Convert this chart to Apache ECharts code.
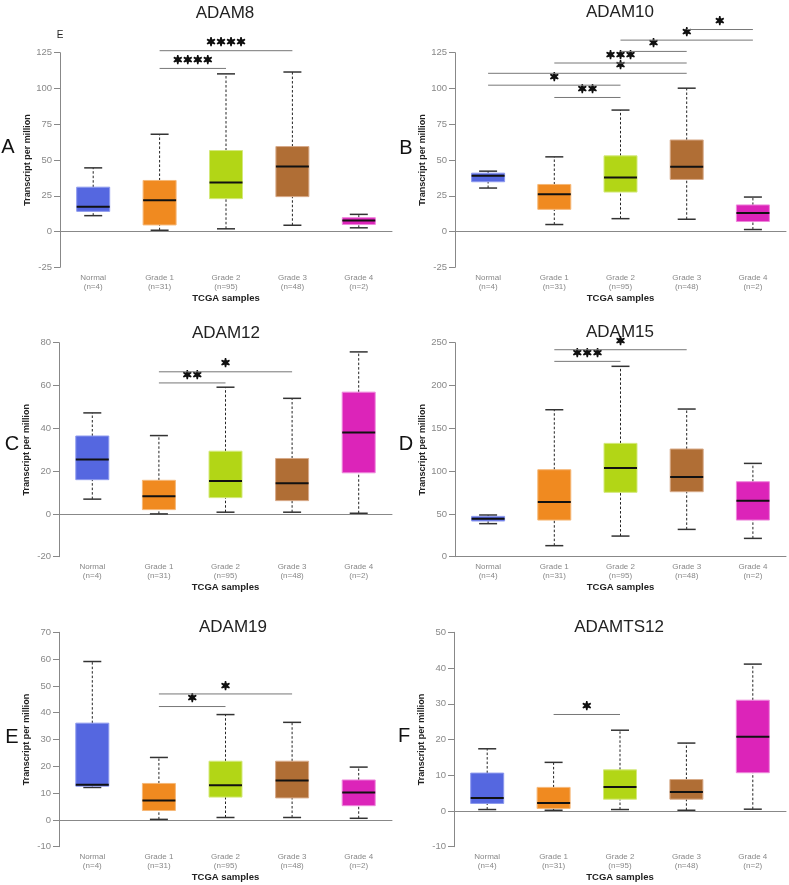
<!DOCTYPE html>
<html lang="en">
<head>
    <meta charset="UTF-8">
    <title>ADAM expression by tumour grade</title>
    <script src="https://cdn.jsdelivr.net/npm/echarts@6/dist/echarts.min.js"></script>
    <style>
        body { margin: 0; background: #fff; }
    </style>
</head>
<body>
   <div id="main" style="width: 789px;height:885px;"></div>
   <script type="text/javascript">
       // groups on the x axis
       var categories = ['Normal', 'Grade 1', 'Grade 2', 'Grade 3', 'Grade 4'];
       var sampleCounts = [4, 31, 95, 48, 2];

       // one row per group: [min, Q1, median, Q3, max]
       var adam8 = [[11.1, 14.1, 17.4, 31, 44.5], [0.9, 4.6, 21.8, 35.7, 68], [1.9, 23, 34.3, 56.6, 110.2], [4.4, 24.4, 45.5, 59.4, 111.5], [2.6, 4.9, 7.7, 9.7, 12]];
       var adam10 = [[30.4, 34.8, 39, 40.8, 42.2], [4.9, 15.5, 26, 32.9, 52.2], [9, 27.6, 37.8, 52.9, 84.9], [8.6, 36.4, 45.2, 64, 100.2], [1.4, 7, 13, 18.6, 24.1]];
       var adam12 = [[6.9, 16, 25.4, 36.4, 47.2], [0, 2, 8.3, 15.7, 36.6], [0.8, 7.6, 15.4, 29.3, 59.2], [0.8, 6.2, 14.3, 25.9, 54], [0.3, 19.2, 38, 56.9, 75.7]];
       var adam15 = [[38.6, 41.7, 44.4, 47.1, 48.7], [12.9, 42.8, 63.9, 101.6, 171.7], [24.1, 75.2, 103.6, 132.4, 222.4], [31.9, 75.9, 93.1, 125.8, 172.5], [21.4, 42.8, 65.4, 87.6, 109]];
       var adam19 = [[12.1, 12.6, 13.1, 36.1, 59.1], [0.2, 3.5, 7.2, 13.6, 23.3], [0.9, 8.5, 12.9, 21.9, 39.3], [0.9, 8.2, 14.7, 21.9, 36.4], [0.6, 5.3, 10.2, 14.9, 19.7]];
       var adamts12 = [[0.4, 2.1, 3.6, 10.6, 17.4], [0.2, 0.7, 2.2, 6.6, 13.6], [0.4, 3.3, 6.7, 11.5, 22.6], [0.2, 3.3, 5.3, 8.8, 19], [0.5, 10.7, 20.8, 31, 41.1]];

       // significance bars: [from group, to group, y value, stars, (optional) star position]
       var adam8Sig = [[1, 2, 114, '****'], [1, 3, 126.4, '****']];
       var adam10Sig = [[1, 2, 93.7, '**'], [0, 2, 102.3, '*', 1.23], [0, 3, 110.6, '*', 1.69], [1, 3, 117.8, '***'], [2, 3, 125.9, '*'], [2, 4, 133.8, '*'], [3, 4, 141.2, '*']];
       var adam12Sig = [[1, 2, 61.2, '**'], [1, 3, 66.4, '*']];
       var adam15Sig = [[1, 2, 228.2, '***'], [1, 3, 241.8, '*']];
       var adam19Sig = [[1, 2, 42.3, '*'], [1, 3, 47, '*']];
       var adamts12Sig = [[1, 2, 27, '*']];

       var boxColors = ['#5567e0', '#f08a20', '#b2d616', '#b06e35', '#dc24b9'];
       var boxBorders = ['#8e9aee', '#f6b878', '#d4e97c', '#d8ab8a', '#ee88dc'];
       var font = '"Liberation Sans", Arial, sans-serif';

       var panels = [
           {title: 'ADAM8', box: adam8, sig: adam8Sig, min: -25, max: 125, step: 25, left: 60, top: 52.7, width: 332, height: 214.6, titleX: 225, titleY: 13, letter: 'A', lx: 8, ly: 147},
           {title: 'ADAM10', box: adam10, sig: adam10Sig, min: -25, max: 125, step: 25, left: 455, top: 52.7, width: 331, height: 214.6, titleX: 620, titleY: 12, letter: 'B', lx: 406, ly: 148},
           {title: 'ADAM12', box: adam12, sig: adam12Sig, min: -20, max: 80, step: 20, left: 59, top: 342.7, width: 333, height: 214, titleX: 226, titleY: 333, letter: 'C', lx: 12, ly: 444},
           {title: 'ADAM15', box: adam15, sig: adam15Sig, min: 0, max: 250, step: 50, left: 455, top: 342.7, width: 331, height: 214, titleX: 620, titleY: 332, letter: 'D', lx: 406, ly: 444},
           {title: 'ADAM19', box: adam19, sig: adam19Sig, min: -10, max: 70, step: 10, left: 59, top: 632.3, width: 333, height: 214.4, titleX: 233, titleY: 627, letter: 'E', lx: 12, ly: 737},
           {title: 'ADAMTS12', box: adamts12, sig: adamts12Sig, min: -10, max: 50, step: 10, left: 454, top: 632.3, width: 332, height: 214.4, titleX: 619, titleY: 627, letter: 'F', lx: 404, ly: 736}
       ];

       function renderBox(params, api) {
           var k = api.value(0);
           var pMin = api.coord([k, api.value(1)]);
           var pQ1 = api.coord([k, api.value(2)]);
           var pMed = api.coord([k, api.value(3)]);
           var pQ3 = api.coord([k, api.value(4)]);
           var pMax = api.coord([k, api.value(5)]);
           var cx = pMin[0], half = 16.5, cap = 9;
           var dash = {stroke: '#222', lineWidth: 1, lineDash: [2.5, 2]};
           var solid = {stroke: '#333', lineWidth: 1.5};
           return {
               type: 'group',
               children: [
                   {type: 'line', shape: {x1: cx, y1: pQ3[1], x2: cx, y2: pMax[1]}, style: dash},
                   {type: 'line', shape: {x1: cx, y1: pMin[1], x2: cx, y2: pQ1[1]}, style: dash},
                   {type: 'line', shape: {x1: cx - cap, y1: pMax[1], x2: cx + cap, y2: pMax[1]}, style: solid},
                   {type: 'line', shape: {x1: cx - cap, y1: pMin[1], x2: cx + cap, y2: pMin[1]}, style: solid},
                   {type: 'rect', shape: {x: cx - half, y: pQ3[1], width: half * 2, height: pQ1[1] - pQ3[1]},
                       style: {fill: boxColors[k], stroke: boxBorders[k], lineWidth: 1}},
                   {type: 'line', shape: {x1: cx - half, y1: pMed[1], x2: cx + half, y2: pMed[1]}, style: {stroke: '#111', lineWidth: 2}}
               ]
           };
       }

       function renderSig(params, api) {
           var p1 = api.coord([api.value(0), api.value(2)]);
           var p2 = api.coord([api.value(1), api.value(2)]);
           var star = params.context.sig[params.dataIndex];
           var sx = star[4] != null ? api.coord([star[4], 0])[0] : (p1[0] + p2[0]) / 2;
           return {
               type: 'group',
               children: [
                   {type: 'line', shape: {x1: p1[0], y1: p1[1], x2: p2[0], y2: p2[1]}, style: {stroke: '#777', lineWidth: 1}},
                   {type: 'text', x: sx, y: p1[1] - 7.5,
                       style: {text: star[3].replace(/\*/g, '\u2736'), fill: '#111', stroke: '#111', lineWidth: 1.4,
                           font: '12px "DejaVu Sans"',
                           align: 'center', verticalAlign: 'middle', textAlign: 'center', textVerticalAlign: 'middle'}}
               ]
           };
       }

       var grids = [], xAxes = [], yAxes = [], series = [], graphics = [];
       panels.forEach(function (p, i) {
           grids.push({left: p.left, top: p.top, width: p.width, height: p.height});
           xAxes.push({
               type: 'category', gridIndex: i,
               data: categories.map(function (c, k) { return c + '\n(n=' + sampleCounts[k] + ')'; }),
               axisTick: {show: false},
               axisLine: {lineStyle: {color: '#888'}},
               axisLabel: {color: '#888', fontSize: 8, lineHeight: 9, margin: 6, interval: 0, fontFamily: font},
               name: 'TCGA samples', nameLocation: 'middle', nameGap: 26,
               nameTextStyle: {fontWeight: 'bold', fontSize: 9.5, color: '#222', fontFamily: font}
           });
           yAxes.push({
               type: 'value', gridIndex: i, min: p.min, max: p.max, interval: p.step,
               splitLine: {show: false},
               axisLine: {show: true, lineStyle: {color: '#888'}},
               axisTick: {show: true, length: 6, lineStyle: {color: '#888'}},
               axisLabel: {color: '#888', fontSize: 9.5, margin: 8, fontFamily: font},
               name: 'Transcript per million', nameLocation: 'middle', nameGap: 28,
               nameTextStyle: {fontWeight: 'bold', fontSize: 9, color: '#222', fontFamily: font}
           });
           series.push({
               type: 'custom', xAxisIndex: i, yAxisIndex: i, renderItem: renderBox,
               encode: {x: 0, y: [1, 2, 3, 4, 5]},
               data: p.box.map(function (d, k) { return [k].concat(d); })
           });
           var sig = p.sig;
           series.push({
               type: 'custom', xAxisIndex: i, yAxisIndex: i, clip: false, z: 5,
               renderItem: function (params, api) { params.context.sig = sig; return renderSig(params, api); },
               encode: {x: [0, 1], y: 2},
               data: sig.map(function (s) { return [s[0], s[1], s[2]]; })
           });
           graphics.push({type: 'text', x: p.titleX, y: p.titleY,
               style: {text: p.title, font: '17px ' + font, fill: '#222', align: 'center', verticalAlign: 'middle', textAlign: 'center', textVerticalAlign: 'middle'}});
           graphics.push({type: 'text', x: p.lx, y: p.ly,
               style: {text: p.letter, font: '20px ' + font, fill: '#111', align: 'center', verticalAlign: 'middle', textAlign: 'center', textVerticalAlign: 'middle'}});
       });
       // stray panel label left in the source figure
       graphics.push({type: 'text', x: 60, y: 35,
           style: {text: 'E', font: '10px ' + font, fill: '#222', align: 'center', verticalAlign: 'middle', textAlign: 'center', textVerticalAlign: 'middle'}});

       var myChart = echarts.init(document.getElementById('main'));
       var option = {
           animation: false,
           grid: grids,
           xAxis: xAxes,
           yAxis: yAxes,
           series: series,
           graphic: graphics
       };
       myChart.setOption(option);
   </script>
</body>
</html>
